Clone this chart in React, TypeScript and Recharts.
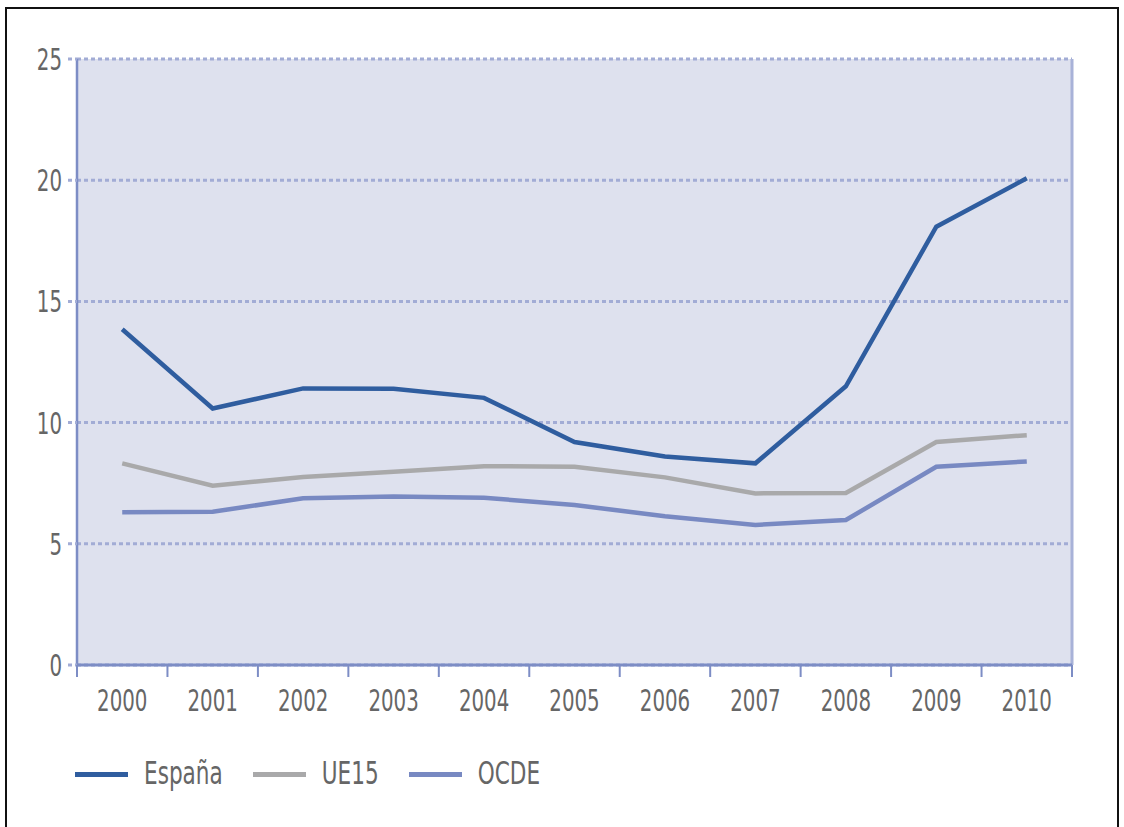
import React from 'react';
import { LineChart, Line, XAxis, YAxis, CartesianGrid } from 'recharts';

const years = ['2000', '2001', '2002', '2003', '2004', '2005', '2006', '2007', '2008', '2009', '2010'];
const espana = [13.85, 10.58, 11.41, 11.4, 11.02, 9.2, 8.6, 8.32, 11.5, 18.08, 20.08];
const ue15 = [8.32, 7.4, 7.76, 7.97, 8.2, 8.18, 7.74, 7.08, 7.1, 9.2, 9.48];
const ocde = [6.3, 6.32, 6.88, 6.95, 6.9, 6.6, 6.14, 5.78, 5.98, 8.18, 8.4];
const yTicks = [0, 5, 10, 15, 20, 25];

const series = [
  { key: 'espana', name: 'España', color: '#2f5d9f', values: espana },
  { key: 'ue15', name: 'UE15', color: '#a9a9aa', values: ue15 },
  { key: 'ocde', name: 'OCDE', color: '#7889c2', values: ocde },
];

const data = years.map((year, i) => ({
  year,
  espana: espana[i],
  ue15: ue15[i],
  ocde: ocde[i],
}));

const W = 1124;
const H = 827;
const margin = { top: 59, right: 52, bottom: 102, left: 0 };
const Y_AXIS_W = 77;
const PLOT_RIGHT = W - margin.right;
const PLOT_W = PLOT_RIGHT - margin.left - Y_AXIS_W;
const HALF_BAND = PLOT_W / years.length / 2;

const FONT = '"DejaVu Sans Condensed", "DejaVu Sans", sans-serif';
const AXIS_COLOR = '#7d8dc5';
const GRID_COLOR = '#a2acd5';
const TEXT_COLOR = '#666666';
const STRETCH = 1.4;

function YearTick({ x, y, payload, index }: any) {
  const isLast = index === years.length - 1;
  return (
    <g>
      <line x1={x - HALF_BAND} y1={y} x2={x - HALF_BAND} y2={y + 12} stroke={AXIS_COLOR} strokeWidth={2} />
      {isLast && (
        <line x1={x + HALF_BAND} y1={y} x2={x + HALF_BAND} y2={y + 12} stroke={AXIS_COLOR} strokeWidth={2} />
      )}
      <text
        transform={`translate(${x},${y + 46}) scale(1,${STRETCH})`}
        textAnchor="middle"
        fill={TEXT_COLOR}
        fontSize={22}
        fontFamily={FONT}
      >
        {payload.value}
      </text>
    </g>
  );
}

function ValueTick({ x, y, payload }: any) {
  return (
    <text
      transform={`translate(${x},${y + 11}) scale(1,${STRETCH})`}
      textAnchor="end"
      fill={TEXT_COLOR}
      fontSize={22}
      fontFamily={FONT}
    >
      {payload.value}
    </text>
  );
}

export default function App() {
  return (
    <div style={{ position: 'absolute', left: 0, top: 0, width: W, height: H, background: '#fff', overflow: 'hidden' }}>
      <div
        style={{
          position: 'absolute',
          left: 5,
          top: 7,
          width: 1114,
          height: 840,
          border: '2px solid #111',
          boxSizing: 'border-box',
        }}
      />
      <div style={{ position: 'absolute', left: 0, top: 0 }}>
        <LineChart width={W} height={H} data={data} margin={margin}>
          <CartesianGrid
            vertical={false}
            fill="#dee1ee"
            stroke={GRID_COLOR}
            strokeWidth={3}
            strokeDasharray="4 3"
          />
          <CartesianGrid
            horizontal={false}
            verticalPoints={[PLOT_RIGHT]}
            stroke="#a8b2d8"
            strokeWidth={3}
          />
          <XAxis
            dataKey="year"
            scale="band"
            height={60}
            axisLine={{ stroke: AXIS_COLOR, strokeWidth: 3 }}
            tickLine={false}
            tickSize={0}
            tickMargin={0}
            interval={0}
            tick={<YearTick />}
          />
          <YAxis
            width={Y_AXIS_W}
            domain={[0, 25]}
            ticks={yTicks}
            interval={0}
            axisLine={{ stroke: AXIS_COLOR, strokeWidth: 2.5 }}
            tickLine={{ stroke: GRID_COLOR, strokeWidth: 3, strokeDasharray: '4 3' }}
            tickSize={9}
            tickMargin={6}
            tick={<ValueTick />}
          />
          {series.map((s) => (
            <Line
              key={s.key}
              type="linear"
              dataKey={s.key}
              name={s.name}
              stroke={s.color}
              strokeWidth={4.5}
              dot={false}
              isAnimationActive={false}
            />
          ))}
        </LineChart>
      </div>
      <div
        style={{
          position: 'absolute',
          left: 75,
          top: 760,
          display: 'flex',
          alignItems: 'center',
          fontFamily: FONT,
          fontSize: 24,
          color: TEXT_COLOR,
        }}
      >
        {series.map((s) => (
          <div key={s.key} style={{ display: 'flex', alignItems: 'center', marginRight: 30 }}>
            <span style={{ display: 'inline-block', width: 53, height: 5, background: s.color, marginRight: 16 }} />
            <span style={{ display: 'inline-block', transform: `scaleY(${STRETCH - 0.1})` }}>{s.name}</span>
          </div>
        ))}
      </div>
    </div>
  );
}
